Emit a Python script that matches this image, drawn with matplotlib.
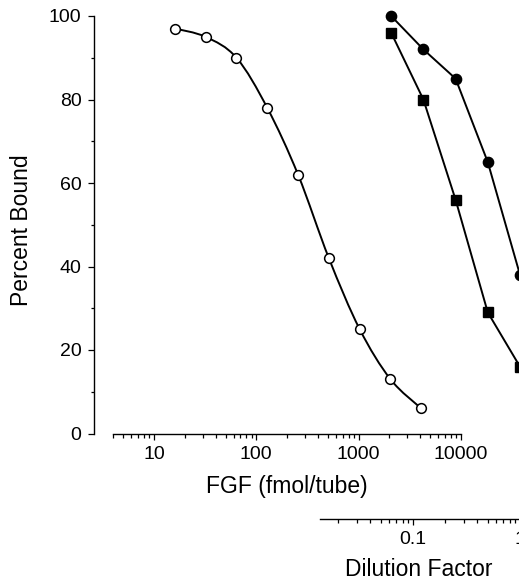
import numpy as np
import matplotlib
matplotlib.use("Agg")
import matplotlib.pyplot as plt
from matplotlib.path import Path
from matplotlib.patches import PathPatch
from matplotlib.ticker import FixedLocator, NullFormatter, FixedFormatter

plt.rcParams['font.family'] = ['Liberation Sans', 'DejaVu Sans']

# ---- data ----
fgf_fmol = [16, 32, 64, 128, 256, 512, 1024, 2048, 4096]
fgf_bound = [97, 95, 90, 78, 62, 42, 25, 13, 6]

dilution = [1/16, 1/8, 1/4, 1/2, 1]
circle_bound = [100, 92, 85, 65, 38]
square_bound = [96, 80, 56, 29, 16]

y_ticks = [0, 20, 40, 60, 80, 100]
y_minor = [10, 30, 50, 70, 90]
fgf_ticks = [10, 100, 1000, 10000]
fgf_tick_labels = ['10', '100', '1000', '10000']
dil_ticks = [0.1, 1]
dil_tick_labels = ['0.1', '1']

# ---- layout ----
W, H = 519, 585
fig = plt.figure(figsize=(W / 100, H / 100), dpi=100)

ax_left, ax_right = 94, 519
ax2_right = 545
y0_px, y100_px = 433.5, 16
pos = [ax_left / W, (H - y0_px) / H, (ax_right - ax_left) / W, (y0_px - y100_px) / H]
pos2 = [ax_left / W, (H - y0_px) / H, (ax2_right - ax_left) / W, (y0_px - y100_px) / H]

ax = fig.add_axes(pos)
ax2 = fig.add_axes(pos2, facecolor='none')

# FGF axis: 10 at px 154, decade = 102.3 px
D1 = 102.3
ax.set_xscale('log')
ax.set_xlim(10 ** (1 + (ax_left - 154) / D1), 10 ** (1 + (ax_right - 154) / D1))
ax.set_ylim(0, 100)

# dilution axis: 1 at px 520, decade = 107 px
D2 = 107.0
ax2.set_xscale('log')
ax2.set_xlim(10 ** ((ax_left - 520) / D2), 10 ** ((ax2_right - 520) / D2))
ax2.set_ylim(0, 100)

lw = 1.4
black = 'black'

# ---- smooth open-circle curve (Catmull-Rom as cubic Bezier in log-x space) ----
lx = np.log10(fgf_fmol)
ly = np.array(fgf_bound, dtype=float)
pts = np.column_stack([lx, ly])
ext = np.vstack([pts[0], pts, pts[-1]])
verts = [pts[0]]
codes = [Path.MOVETO]
for i in range(len(pts) - 1):
    p0, p1, p2, p3 = ext[i], ext[i + 1], ext[i + 2], ext[i + 3]
    c1 = p1 + (p2 - p0) / 6.0
    c2 = p2 - (p3 - p1) / 6.0
    verts += [c1, c2, p2]
    codes += [Path.CURVE4] * 3
verts = np.array(verts)
verts[:, 0] = 10 ** verts[:, 0]
ax.add_patch(PathPatch(Path(verts, codes), fill=False, lw=lw, edgecolor=black, zorder=2))
ax.plot(fgf_fmol, fgf_bound, linestyle='none', marker='o', ms=7.0,
        mfc='white', mec=black, mew=1.1, zorder=3, clip_on=False)

# ---- dilution series ----
ax2.plot(dilution, circle_bound, color=black, lw=lw, marker='o', ms=7.4,
         mfc=black, mec=black, zorder=3, clip_on=False)
ax2.plot(dilution, square_bound, color=black, lw=lw, marker='s', ms=7.2,
         mfc=black, mec=black, zorder=3, clip_on=False)

# ---- main axes styling ----
for s in ['top', 'right']:
    ax.spines[s].set_visible(False)
ax.spines['left'].set_bounds(0, 100)
ax.spines['bottom'].set_bounds(4, 10000)
for s in ['left', 'bottom']:
    ax.spines[s].set_linewidth(1.0)

ax.yaxis.set_major_locator(FixedLocator(y_ticks))
ax.yaxis.set_minor_locator(FixedLocator(y_minor))
ax.xaxis.set_major_locator(FixedLocator(fgf_ticks))
ax.xaxis.set_major_formatter(FixedFormatter(fgf_tick_labels))
fgf_minor = [m * 10 ** e for e in range(0, 4) for m in range(2, 10) if 4 <= m * 10 ** e <= 10000]
ax.xaxis.set_minor_locator(FixedLocator(fgf_minor))
ax.xaxis.set_minor_formatter(NullFormatter())

ax.tick_params(axis='y', which='major', direction='out', length=4.5, width=0.9,
               labelsize=14, pad=4.5)
ax.tick_params(axis='y', which='minor', direction='out', length=2.0, width=0.9)
ax.tick_params(axis='x', which='major', direction='out', length=4.5, width=0.9,
               labelsize=14, pad=4.5)
ax.tick_params(axis='x', which='minor', direction='out', length=3.2, width=0.9)

ax.set_ylabel('Percent Bound', fontsize=16.5)
ax.yaxis.set_label_coords((22 - ax_left) / (ax_right - ax_left), (y0_px - 230) / (y0_px - y100_px))
ax.yaxis.label.set_va('center')
ax.set_xlabel('FGF (fmol/tube)', fontsize=16.5)
ax.xaxis.set_label_coords((287 - ax_left) / (ax_right - ax_left), (y0_px - 487) / (y0_px - y100_px))
ax.xaxis.label.set_va('center')

# ---- dilution axis styling ----
for s in ['top', 'right', 'left']:
    ax2.spines[s].set_visible(False)
ax2.spines['bottom'].set_position(('outward', (518.5 - y0_px) * 0.72))
ax2.spines['bottom'].set_bounds(0.0135, 1.3)
ax2.spines['bottom'].set_linewidth(1.0)
ax2.yaxis.set_visible(False)
ax2.xaxis.set_major_locator(FixedLocator(dil_ticks))
ax2.xaxis.set_major_formatter(FixedFormatter(dil_tick_labels))
dil_minor = [m * 10.0 ** e for e in (-2, -1) for m in range(2, 10)]
ax2.xaxis.set_minor_locator(FixedLocator(dil_minor))
ax2.xaxis.set_minor_formatter(NullFormatter())
ax2.tick_params(axis='x', which='major', direction='out', length=4.5, width=0.9,
                labelsize=14, pad=4.5)
ax2.tick_params(axis='x', which='minor', direction='out', length=3.2, width=0.9)
ax2.set_xlabel('Dilution Factor', fontsize=16.5)
ax2.xaxis.set_label_coords((419 - ax_left) / (ax2_right - ax_left), (y0_px - 570) / (y0_px - y100_px))
ax2.xaxis.label.set_va('center')

fig.savefig('out.png', dpi=100)
